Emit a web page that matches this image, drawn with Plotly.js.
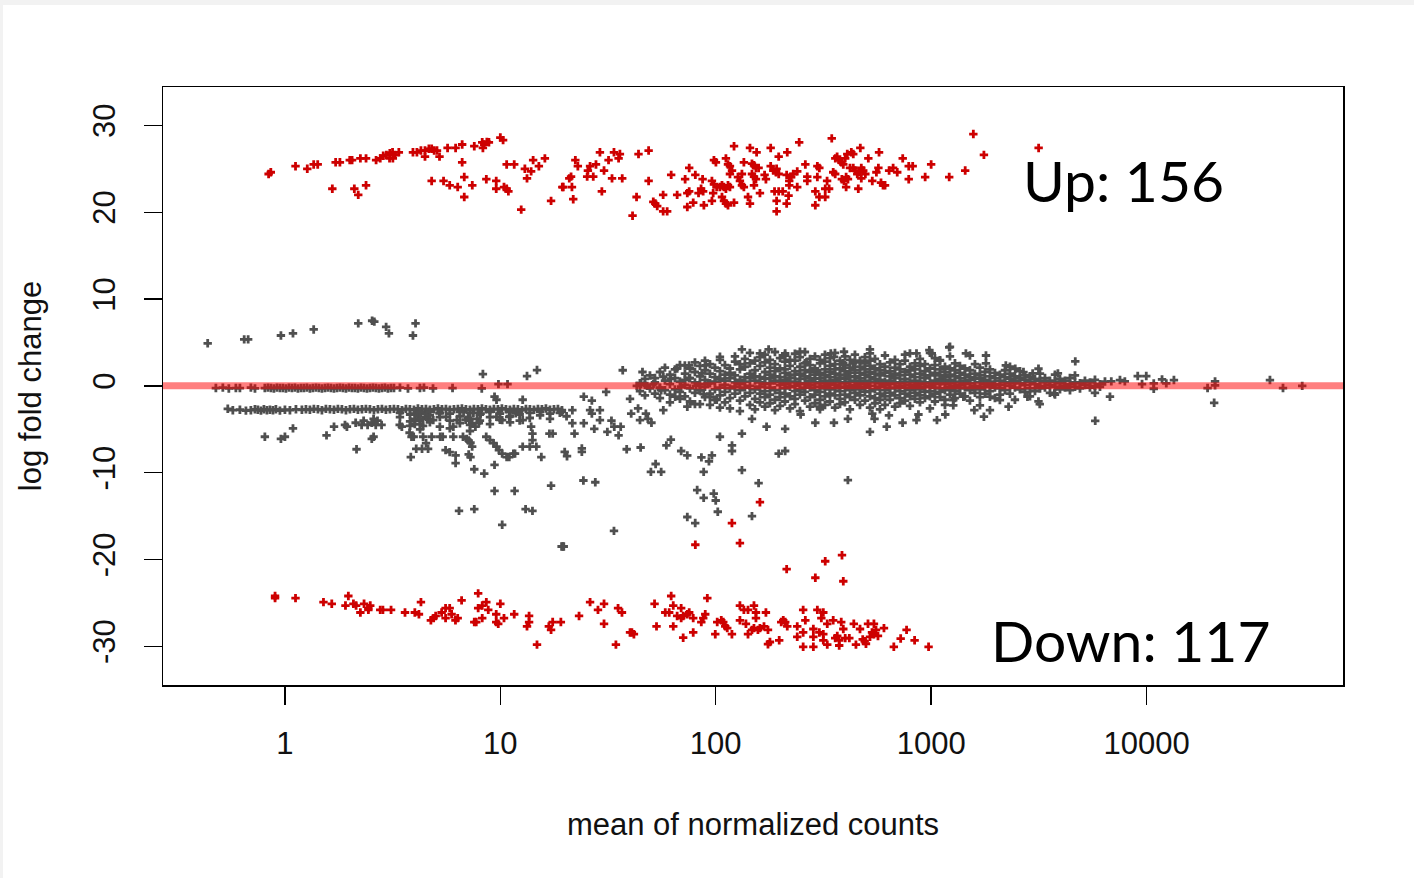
<!DOCTYPE html>
<html>
<head>
<meta charset="utf-8">
<script src="https://cdn.plot.ly/plotly-3.0.1.min.js"></script>
<style>
html,body{margin:0;padding:0;background:#f2f2f2;}
#chart{position:absolute;left:3px;top:5px;width:1411px;height:873px;background:#fff;}
</style>
</head>
<body>
<div id="chart"></div>
<script>
// ---------- tick labels ----------
const xTickVals = [1, 10, 100, 1000, 10000];
const xTickText = ["1", "10", "100", "1000", "10000"];
const yTickVals = [-30, -20, -10, 0, 10, 20, 30];
const yTickText = ["-30", "-20", "-10", "0", "10", "20", "30"];

// ---------- significant up (red) ----------
const upX = [0.84,0.86,1.12,1.27,1.36,1.42,1.72,1.80,2.0,2.05,2.24,2.38,2.65,2.77,2.86,2.96,3.07,3.16,3.25,3.38,3.06,3.17,
3.93,4.10,4.28,4.47,4.66,4.80,4.93,5.08,4.47,5.22,5.69,6.20,6.65,7.57,8.24,8.42,8.66,8.85,8.30,10.0,10.3,
1.66,2.10,2.19,2.38,4.80,5.45,5.82,6.34,6.65,6.80,6.80,7.41,8.61,9.57,9.57,10.4,10.7,10.9,10.7,11.6,12.5,13.0,13.9,14.2,13.3,15.1,16.1,17.2,19.4,
19.6,20.9,21.3,21.5,21.8,22.3,22.9,25.5,26.1,25.3,27.0,27.8,29.0,29.6,30.3,31.8,33.0,33.7,35.4,35.9,36.8,41.1,42.9,43.8,48.8,48.8,
51.3,52.4,53.5,57.0,57.0,59.5,62.1,66.2,72.1,75.3,73.8,75.3,73.8,78.6,80.4,83.2,85.5,87.4,86.9,88.1,96,97.3,98.1,100.2,96,98.1,101,
104.5,106.9,109.2,111.5,114,116.4,106.9,109.2,111.5,114,111.5,114,116.4,119,116.4,121.6,121.6,126.8,129.5,132.3,135.1,132.3,135.1,
141.2,144.2,144.2,154.8,147.3,150.5,153.7,158.1,147.3,150.5,153.7,150.5,160.4,168.6,171,179.9,179.9,185,190.5,196,191.7,187.5,196,191.7,191.7,204.6,196,
214.8,213.4,219.4,224,229,219.4,213.4,217.8,239,239,244,260.6,266,266,289.9,289.9,296.3,302.7,296.3,302.7,322.3,322.3,336,328.8,345.6,
351,358.6,359,366,374,383,391,399,408,426,435,385,394,403,411,403,420,435,444,454,463,474,484,495,474,459,469,511,533,557,569,573,
585,598,611,638,666,696,738,787,821,787,938,1000,1213,1439,1570,1758,3155];
const upY = [24.4,24.6,25.3,25.0,25.5,25.5,25.75,25.75,26.0,26.0,26.2,26.2,26.0,26.2,26.5,26.6,26.8,26.9,26.6,26.9,26.2,26.2,
26.9,26.9,27.1,27.1,27.3,27.3,27.1,27.1,26.4,26.4,27.4,27.4,27.8,27.6,28.05,27.8,28.1,28.05,27.4,28.6,28.3,
22.7,22.7,22.0,23.1,23.6,23.6,23.1,22.9,25.75,24.05,21.75,23.1,23.8,23.6,22.7,22.9,22.7,22.4,25.5,25.5,20.3,25.0,24.7,26.0,23.9,25.3,26.2,21.3,22.9,
22.9,23.9,24.1,22.9,21.5,26.0,25.3,24.8,25.3,24.1,24.1,25.5,26.9,22.4,24.8,26.0,23.9,26.9,26.2,26.7,23.9,19.6,21.75,26.7,27.1,23.6,
21.2,21.0,20.7,22.0,20.1,20.1,24.3,22.0,23.8,25.1,22.2,22.4,20.6,21.1,24.3,22.2,22.7,22.4,23.8,20.8,21.3,22.2,26.0,25.75,23.6,23.2,22.9,
22.9,23.1,22.9,22.7,23.1,22.9,21.75,21.3,21.0,20.8,26.2,25.5,25.3,24.8,24.4,27.6,21.1,24.05,23.6,23.1,22.9,24.4,25.75,
21.75,21.0,27.4,26.9,25.6,25.4,25.1,25.1,24.4,24.1,23.8,23.1,22.2,24.3,23.8,27.4,25.3,24.8,24.6,24.4,25.0,22.4,22.4,21.3,20.1,22.4,26.4,
26.9,24.3,23.6,24.05,24.4,23.1,21.0,21.9,24.7,22.9,28.05,25.5,24.1,23.6,22.4,20.8,25.3,25.1,24.05,21.75,21.75,22.7,22.7,23.6,28.5,
24.6,24.4,26.2,26.4,26.0,25.75,25.5,26.2,26.7,26.9,26.7,23.8,23.6,22.9,23.8,24.05,25.1,25.1,24.8,24.4,24.6,25.1,24.8,24.4,23.9,22.7,27.4,26.2,23.6,24.6,25.1,26.9,
23.4,23.1,23.1,24.8,25.1,24.6,26.2,25.3,25.3,23.8,24.05,25.5,24.05,24.8,29.0,26.6,27.4];

// ---------- significant down (red) ----------
const downX = [0.90,0.90,1.12,1.51,1.65,1.97,1.91,2.08,2.14,2.24,2.33,2.44,2.49,2.44,2.77,2.85,3.11,3.61,4.01,4.19,4.28,4.76,4.90,5.01,
5.34,5.57,5.82,5.94,5.57,6.19,6.34,6.61,7.57,7.73,7.89,7.89,8.24,8.61,8.79,8.24,9.57,9.57,9.78,10.0,10.4,11.6,13.3,13.6,13.6,14.8,
16.8,17.2,17.5,19.1,23.2,26.1,28.4,30.3,30.3,34.4,35.2,36.7,40.0,40.8,41.7,52.0,53.1,58.3,60.8,62.1,63.5,63.5,66.2,69.1,69.1,70.6,
73.8,75.3,70.6,78.6,78.6,85.7,87.5,89.4,91.4,99.5,101.6,106.1,108.4,110.7,113.1,118.9,129.5,129.5,135.1,138.1,141.2,141.2,147.3,
150.5,150.5,153.7,153.7,157,160.4,167.5,171,174.8,178.5,174.8,197.1,201.4,205.8,210.2,214.8,239,239,254.6,254.6,254.6,260.6,
283.9,283.9,283.9,296.3,302.7,309.2,315.8,315.8,315.8,329.4,329.4,351,358.6,366.6,374.3,382.5,391,399,417,374.3,437.5,447.6,
467.5,481.3,491.3,498.2,509.2,520,531.4,542.5,542.5,554.6,566.4,603.9,671,722,769,838,973,
80.4,129.5,213.4,290,322.3,385.6,391,160.4,118.9];
const downY = [-24.2,-24.45,-24.45,-24.9,-25.1,-24.2,-25.3,-25.1,-25.3,-26.1,-25.1,-25.6,-25.3,-25.8,-25.8,-25.8,-25.8,-26.1,-26.1,-26.3,-24.9,-27.0,-26.75,-26.5,
-26.1,-25.6,-25.6,-26.3,-26.75,-27.0,-26.75,-24.7,-27.2,-27.2,-23.9,-25.6,-25.3,-24.9,-25.8,-26.75,-26.3,-27.2,-27.4,-25.1,-26.75,-26.3,-27.7,-26.5,-27.2,-29.8,
-27.7,-28.1,-27.2,-27.2,-26.5,-24.9,-25.8,-25.1,-27.4,-29.8,-25.6,-26.1,-28.4,-28.4,-28.6,-25.1,-27.7,-26.1,-26.1,-24.2,-25.3,-27.7,-26.5,-25.6,-26.75,-26.5,
-26.3,-26.1,-29.0,-26.75,-28.4,-27.2,-26.75,-26.3,-24.45,-28.6,-27.2,-27.0,-27.2,-27.7,-27.9,-28.6,-25.3,-27.0,-25.8,-27.4,-25.8,-28.6,-28.1,
-25.3,-27.9,-26.75,-26.1,-28.1,-27.9,-27.7,-26.1,-28.1,-29.5,-29.75,-29.3,-27.2,-27.0,-27.2,-27.7,-27.7,-28.9,-25.8,-28.4,-30.05,-27.0,
-28.0,-30.05,-28.9,-25.8,-28.4,-26.75,-26.1,-28.6,-29.3,-29.8,-27.4,-27.0,-29.05,-28.8,-29.3,-27.2,-28.0,-29.05,-29.05,-29.9,-27.4,-29.8,
-28.0,-29.2,-29.4,-29.7,-27.4,-28.9,-28.4,-27.4,-28.6,-28.1,-28.8,-27.9,-30.05,-29.1,-28.1,-29.3,-30.05,
-18.3,-18.1,-21.1,-22.1,-20.2,-19.5,-22.5,-13.4,-15.8];

// ---------- not significant (grey): scattered points ----------
const grayX = [0.438,0.647,0.675,0.958,1.09,1.36,2.19,2.54,2.60,2.95,3.04,3.93,4.04,
6.0,8.2,9.8,10.8,8.3,13.3,14.8,
1.56,0.807,0.958,1.0,1.09,1.69,1.90,1.94,2.13,2.27,2.32,2.42,2.53,2.64,2.69,2.81,2.58,2.58,2.53,2.15,3.41,3.49,3.79,3.87,3.96,3.84,
4.07,4.33,4.62,4.52,4.01,4.01,4.01,4.15,4.24,4.38,4.47,4.62,4.38,4.80,5.26,4.52,4.88,5.22,5.6,6.05,6.29,5.57,5.82,6.2,6.2,5.4,6.05,
6.43,7.57,6.71,6.98,7.13,7.27,7.4,7.13,7.27,7.57,8.42,6.75,7.1,7.5,7.8,6.9,8.1,7.4,7.66,7.95,
8.6,8.95,9.3,9.6,9.85,10.2,10.7,11.0,11.5,9.4,9.4,11.65,10.2,9.4,9.6,12.7,13.1,14.1,13.7,14.1,14.7,15.5,12.7,11.7,
13.9,14.1,16.9,17.5,17.2,19.25,11.0,11.8,12.7,10.2,9.6,19.5,
19.3,20.3,21.6,21.6,22.1,19.9,20.4,23.9,23.9,24.4,26.6,26.1,26.6,29.0,24.4,27.3,29.0,31.4,32.8,33.8,35.4,36.2,24.3,27.6,33.7,19.7,
31.0,37.0,40.0,40.5,43.6,44.5,47.4,48.4,38.6,44.8,45.7,43.0,45.0,48.1,51.4,55.0,55.8,57.1,57.1,50.3,50,52.6,55.8,59.0,61.9,
61.9,66.2,69.1,64.8,69.1,73.8,71.9,75.2,75.2,73.8,73.8,80.3,82.0,87.9,97.9,100,102.2,87.9,85.8,93.0,96,81,84.5,87.9,84.5,91.8,94,101,
86.2,89.9,104.6,104.6,104.6,119,119,132.3,132.3,147.3,158.1,147.3,172.2,196,210,210,247.8,289.9,304.7,353.8,410.7,410.7,520,533,546,
622,637,737,855,873,1064,1163,
132.3,160.4,176,246,394,520,520,1213,210,264,342,354,391,434,797,855,981,1007,1099,
1223,1450,1514,1797,1797,2222,2322,2457,2683,3150,2960,3877,4668,
1267,1267,1412,1587,1685,1758,1875,1875,2086,2288,2800,3150,3193,3733,5778,6764,20600,
6860,7527,7930,9100,9970,9530,10800,10800,11800,12350,13400,19200,20800,20800,37400,43000,52800];
const grayY = [4.9,5.35,5.35,5.8,6.05,6.5,7.2,7.5,7.4,6.8,6.05,5.8,7.2,
-0.25,-0.3,0.2,0.2,1.36,1.13,1.82,
-5.7,-5.86,-6.1,-5.86,-4.9,-4.7,-4.5,-4.7,-4.25,-4.5,-4.0,-4.5,-4.25,-4.5,-4.0,-4.5,-3.8,-5.86,-6.1,-7.3,-4.5,-4.7,-5.4,-5.86,-5.86,-8.2,
-7.25,-7.25,-7.25,-6.6,-3.2,-3.8,-4.4,-3.5,-4.0,-4.6,-3.2,-3.8,-5.86,-5.86,-5.86,-3.56,-3.94,-3.17,-3.56,-4.7,-3.94,-7.4,-7.63,-8.0,-8.9,-5.86,-5.86,
-14.4,-14.2,-5.86,-6.1,-6.3,-6.55,-7.0,-7.9,-8.2,-9.6,-10.1,-3.0,-3.7,-3.1,-3.8,-3.9,-3.2,-4.3,-4.7,-4.3,
-5.86,-6.24,-6.6,-7.0,-7.4,-7.8,-8.2,-8.2,-7.8,-9.1,-12.1,-12.1,-16.0,-1.25,-1.6,-1.6,-14.2,-14.4,-7.0,-6.24,-7.0,-8.2,-7.0,-7.8,
-4.7,-5.5,-5.5,-5.5,-11.5,-18.5,-3.56,-3.17,-3.94,-3.94,-3.56,-18.5,
-3.0,-3.5,-2.8,-4.3,-5.5,-7.6,-8.1,-7.2,-7.6,-1.25,-1.7,-2.8,-3.2,-2.8,-4.3,-4.95,-3.94,-5.3,-4.0,-4.7,-5.7,-4.7,-10.9,-11.1,-16.7,-18.5,
-0.7,1.8,-1.5,-3.2,-2.6,-3.94,-3.2,-3.8,-7.3,-7.1,1.6,0,0.2,0,0.2,-0.25,-0.5,1.05,-2.8,-4.25,-9.9,-9.0,-9.9,-6.85,-6.2,
0.8,2.0,-0.1,-1.25,-7.5,-8.0,2.35,2.35,0.9,-2.4,-15.1,-15.8,-12.0,-12.9,-12.4,-13.2,-14.5,-9.9,-8.24,-8.7,-8.0,0,-0.5,-0.95,-2.1,0.3,-1.25,-1.6,
1.44,2.36,3.35,0.8,-5.86,-6.85,-7.5,-9.7,-5.5,-3.8,-11.2,-15.0,-4.7,-7.8,-7.5,-4.95,-3.3,-4.25,-2.4,-4.25,-3.8,-10.85,-5.3,-3.2,-3.8,
-4.7,-3.4,-4.25,-3.94,-3.3,-3.94,-3.3,
4.2,3.74,4.2,3.93,3.93,4.2,3.74,4.43,3.74,2.74,3.74,3.35,2.6,2.6,3.74,3.74,4.12,3.74,2.97,
4.5,3.74,3.5,3.5,2.6,2.36,2.2,1.97,1.59,1.97,1.44,1.44,2.82,
-1.64,-2.25,-1.25,-2.8,-2.25,-3.55,-2.8,-1.25,-1.64,-2.4,-1.25,-1.78,-2.1,-0.87,-4.02,-1.25,-1.95,
0.52,0.67,0.52,1.13,1.13,0.21,-0.33,0.29,0.75,0.29,0.67,-0.25,0.52,0.06,0.67,-0.25,0];

// ---------- grey: low-count band near zero ----------
const zeroBandX = [0.478,0.515,0.549,0.592,0.618,0.695,0.726,0.807,0.834,0.861,0.889,0.918,0.948,0.979,1.011,1.044,1.078,1.113,1.149,1.187,
1.225,1.265,1.306,1.348,1.393,1.438,1.485,1.534,1.583,1.635,1.689,1.744,1.800,1.859,1.920,1.982,2.047,2.113,2.182,2.253,2.327,2.403,
2.481,2.562,2.645,2.732,2.821,2.912,3.007,3.105,3.207,3.42,3.726,4.235,4.42,4.87];
const zeroBandY = [-0.25,-0.2,-0.3,-0.25,-0.25,-0.2,-0.3,-0.25,-0.2,-0.25,-0.3,-0.2,-0.25,-0.25,-0.3,-0.2,-0.25,-0.2,-0.3,-0.25,
-0.25,-0.2,-0.3,-0.25,-0.2,-0.25,-0.3,-0.25,-0.2,-0.25,-0.3,-0.25,-0.2,-0.25,-0.3,-0.2,-0.25,-0.25,-0.3,-0.2,-0.25,-0.3,
-0.25,-0.2,-0.25,-0.3,-0.25,-0.2,-0.3,-0.25,-0.25,-0.2,-0.3,-0.25,-0.2,-0.3];

// ---------- grey: low-count band near -2.7 ----------
const lowBandX = [0.543,0.573,0.618,0.659,0.695,0.726,0.749,0.774,0.799,0.825,0.852,0.880,0.908,0.948,1.0,1.055,1.125,1.199,
1.252,1.306,1.363,1.423,1.485,1.550,1.618,1.689,1.762,1.839,1.920,2.004,2.091,2.182,2.278,2.377,2.481,2.590,2.703,2.821,2.944,
3.073,3.207,3.347,3.494,3.646,3.805,3.972,4.145,4.326,4.515,4.712,4.918,5.133,5.357,5.591,5.834,6.090,6.355,6.633,6.923,7.226,
7.541,7.871,8.215,8.573,8.948,9.339,9.747,10.17,10.62,11.08,11.56,12.07,12.60,13.15,13.72,14.32,14.95,15.60,16.28,17.00,17.74,18.51,19.32];
const lowBandY = [-2.64,-2.8,-2.75,-2.85,-2.8,-2.7,-2.75,-2.85,-2.7,-2.8,-2.75,-2.8,-2.7,-2.85,-2.75,-2.8,-2.7,-2.75,
-2.7,-2.75,-2.65,-2.7,-2.8,-2.65,-2.7,-2.75,-2.65,-2.7,-2.8,-2.7,-2.65,-2.75,-2.7,-2.65,-2.7,-2.8,-2.7,-2.65,-2.75,
-2.7,-2.65,-2.7,-2.8,-2.65,-2.7,-2.75,-2.6,-2.7,-2.65,-2.75,-2.7,-2.6,-2.7,-2.65,-2.75,-2.7,-2.65,-2.6,-2.7,-2.75,
-2.65,-2.7,-2.6,-2.7,-2.75,-2.65,-2.7,-2.6,-2.7,-2.75,-2.65,-2.7,-2.8,-2.65,-2.7,-2.75,-2.65,-2.7,-2.6,-2.75,-2.7,-2.65,-2.8];

// ---------- grey: low-count cloud under the band (count, lfc values) ----------
const lowCloudCounts = [3.42,3.81,4.24,4.71,5.24,5.83,6.49,7.23,8.04,8.95,9.96,11.1,12.3,13.7,15.3,17.0,18.9];
const lowCloudLfc = [[-3.1,-3.6],[-3.3,-4.1,-4.6],[-3.0,-3.8,-4.4,-5.0],[-3.4,-4.2,-3.0],[-3.6,-4.7,-3.1],[-3.2,-4.0,-4.9],
[-3.5,-3.0,-4.3],[-3.1,-3.8,-4.5,-5.2],[-3.3,-4.0],[-3.6,-4.4,-3.0],[-3.2,-3.9],[-3.5,-4.2,-3.0],[-3.3,-4.0],[-3.1,-3.7],
[-3.4,-3.0],[-3.2,-3.8],[-3.1]];

// ---------- grey: main cloud (count, lfc values) ----------
const cloudCounts = [44.48,46.92,49.50,52.21,55.08,58.11,61.30,64.66,68.21,71.95,75.90,80.07,84.47,89.11,94.00,99.15,104.6,110.3,116.4,122.8,
129.5,136.6,144.1,152.1,160.4,169.2,178.5,188.3,198.7,209.6,221.1,233.2,246.0,259.5,273.8,288.8,304.7,321.4,339.0,357.7,377.3,398.0,
419.8,442.9,467.2,492.9,519.9,548.5,578.6,610.3,644.0,679.2,716.5,755.8,797.3,841.1,887.3,936.0,987.2,1041,1099,1159,1223,1290,1360,
1435,1514,1597,1685,1778,1875,1978,2086,2201,2322,2449,2584,2726,2876,3034,3200,3376,3561,3757,3963,4181,4411,4653,4909,5176,5462,5761,6078,6412];
const cloudLfc = [
[0.3,-0.6],[0.8,-1.1,0.1],[-0.3,1.2],[0.4,-0.9,0.9],[-0.2,1.6,-1.4],[0.6,-0.5,2.1],[0.2,-1.0,1.3,-1.9],[0.9,-0.4,1.9],
[-0.7,0.5,2.4,-1.5],[0.1,1.4,-1.2,0.7],[-0.3,2.0,0.9,-1.8],[0.4,1.6,-0.8,2.7,-2.1],[1.1,-0.5,0.2,2.3],[-1.3,0.7,1.8,-0.1,2.9],
[0.3,-0.9,1.4,-2.2,2.5],[-0.4,1.0,2.1,-1.6,0.5],[0.8,-0.2,1.7,-1.1,3.0,-2.5],[0.1,1.3,-0.7,2.4,-1.9,0.6],[-0.3,0.9,2.0,-1.4,1.5,-2.6],
[0.4,-0.9,1.2,2.8,-0.1,3.4],[-0.5,0.7,1.9,-1.7,0.2,2.5,-2.9],[1.0,-0.2,2.2,-1.2,0.5,3.1],[0.0,1.4,-0.8,2.6,-2.2,0.9,3.8],
[0.6,-0.4,1.8,-1.5,2.9,-2.7,1.1],[-0.1,1.0,2.3,-0.9,0.4,-1.9,3.3],[0.8,-0.6,1.6,2.7,-1.3,0.2,-2.4,3.6],[0.3,1.3,-0.2,2.1,-1.0,3.0,-2.0,0.9],
[-0.5,0.6,1.7,2.5,-1.6,1.1,-2.8,3.9],[0.1,1.0,-0.8,2.0,3.2,-1.3,0.5,-2.3],[0.7,-0.3,1.5,2.8,-1.8,0.2,-0.9,3.5,1.9],
[-0.1,1.2,0.4,2.3,-1.2,-2.6,3.0,0.9],[0.5,1.7,-0.6,2.9,-1.5,0.0,3.7,-2.1,1.3],[-0.4,0.8,2.2,1.4,-1.0,-2.9,3.3,0.2],
[0.3,1.1,-0.7,2.6,-1.7,1.8,-0.2,3.9],[-0.2,0.6,1.6,2.4,-1.3,-2.4,0.9,3.1,0.1],[0.4,1.3,-0.5,2.0,-1.0,3.4,-2.0,0.8,1.7],
[-0.1,0.9,2.6,-1.6,0.3,1.5,-0.7,3.0,-2.7],[0.6,1.9,-0.3,1.2,-1.2,2.8,0.0,-2.2,3.6],[0.2,1.0,-0.9,2.3,1.6,-1.8,0.5,3.2,-0.4],
[-0.3,0.7,1.4,2.5,-1.1,0.1,-2.5,3.8,1.9],[0.4,1.2,-0.6,2.0,-1.5,0.9,2.9,-0.1,-2.1],[-0.2,0.8,1.7,-1.0,2.4,0.3,-1.9,3.4,1.3],
[0.5,1.5,-0.5,2.1,-1.3,0.0,3.0,-2.7,1.0],[0.1,1.1,-0.8,2.7,-1.6,0.6,1.8,-0.3,3.6],[-0.4,0.9,2.2,0.3,-1.1,1.5,-2.2,2.9,-0.1],
[0.6,1.3,-0.7,1.9,-1.7,0.2,2.6,-0.2,3.3],[0.0,1.0,-1.2,2.3,0.5,-2.5,1.6,2.9,-0.6],[0.4,-0.4,1.4,2.0,-1.4,0.8,-2.0,3.1],
[-0.1,0.7,1.8,-0.9,1.2,-1.6,2.5,0.3,-2.7],[0.5,-0.5,1.5,2.2,-1.2,0.1,3.5,-2.2],[0.2,1.1,-0.8,1.7,-1.6,0.6,2.7,-0.2],
[-0.3,0.9,2.1,-1.1,0.4,1.4,-2.4,3.0],[0.3,1.2,-0.6,1.9,-1.4,0.0,2.5,-2.0],[-0.2,0.8,1.6,-0.9,0.5,2.9,-1.7,3.6],
[0.4,-0.5,1.3,2.2,-1.2,0.1,-2.3,1.8],[0.0,1.0,-0.8,1.9,0.6,-1.5,2.6,-0.3],[0.5,-0.4,1.4,2.3,-1.1,0.2,-1.9,3.1],
[-0.1,0.9,1.7,-0.7,0.4,2.5,-1.4,1.2],[0.3,-0.6,1.2,2.0,-1.2,0.0,-2.6,3.8],[0.6,-0.2,1.5,-0.9,2.4,0.2,-1.8,3.2],
[-0.3,0.8,1.9,-1.3,0.4,1.2,-0.7,2.9],[0.2,1.0,-0.5,1.6,-1.6,0.6,2.2,-2.2],[-0.1,0.7,1.3,-1.0,2.0,0.3,-0.4,3.4],
[0.4,-0.6,1.1,1.8,-1.4,0.0,2.6],[0.1,0.9,-0.9,1.5,-0.3,2.3,0.5],[-0.2,0.6,1.3,-1.2,2.0,0.2],[0.3,-0.5,1.0,1.8,-1.7,0.7],
[0.0,0.8,-0.8,1.4,-0.3,2.5],[0.4,-0.4,1.2,-1.3,0.9,2.1],[-0.1,0.7,1.6,-0.9,0.2],[0.5,-0.6,1.1,0.0,1.9],[0.2,-0.2,0.9,-1.4,1.5],
[-0.3,0.6,1.3,0.1,-1.0],[0.4,-0.5,1.0,1.8],[0.0,0.8,-0.9,1.4,0.3],[-0.2,0.6,1.1,-1.6],[0.3,-0.4,0.9,1.7],[0.1,0.7,-0.7,1.2],
[-0.3,0.5,1.0,-1.2],[0.2,-0.6,0.8],[0.0,0.6,-0.3,1.4],[0.4,-0.2,0.9],[0.1,-0.8,0.6],[-0.1,0.5,1.3,-1.0],[0.3,-0.4,0.8],
[0.0,0.6,-0.2],[0.2,0.9,-0.5],[-0.1,0.4,1.2],[0.3,-0.3],[0.1,0.6],[-0.2,0.4],[0.0,0.7,-0.8],[0.2,-0.1],[0.5]];

// ---------- build grey trace ----------
const gx = [].concat(grayX, zeroBandX, lowBandX);
const gy = [].concat(grayY, zeroBandY, lowBandY);
lowCloudCounts.forEach((c, i) => lowCloudLfc[i].forEach(v => { gx.push(c); gy.push(v); }));
cloudCounts.forEach((c, i) => cloudLfc[i].forEach(v => { gx.push(c); gy.push(v); }));

const FONT = "Liberation Sans, Arial, sans-serif";
const grey = '#4f4f4f', red = '#cd0000';

const traces = [
  {x: gx, y: gy, type: 'scatter', mode: 'markers', hoverinfo: 'skip',
   marker: {symbol: 'cross', size: 7, color: grey, line: {width: 0}}},
  {x: upX, y: upY, type: 'scatter', mode: 'markers', hoverinfo: 'skip',
   marker: {symbol: 'cross', size: 7, color: red, line: {width: 0}}},
  {x: downX, y: downY, type: 'scatter', mode: 'markers', hoverinfo: 'skip',
   marker: {symbol: 'cross', size: 7, color: red, line: {width: 0}}}
];

const layout = {
  width: 1411, height: 873,
  margin: {l: 160, r: 71, t: 82, b: 193, pad: 0},
  paper_bgcolor: '#ffffff', plot_bgcolor: '#ffffff',
  showlegend: false,
  font: {family: FONT, size: 31, color: '#111'},
  xaxis: {
    type: 'log', range: [-0.566, 4.912],
    tickmode: 'array', tickvals: xTickVals, ticktext: xTickText,
    ticks: 'outside', ticklen: 18, tickwidth: 1.3, tickcolor: '#000',
    showline: true, linecolor: '#000', linewidth: 1.5, mirror: true,
    showgrid: false, zeroline: false,
    tickfont: {family: FONT, size: 31, color: '#111'},
    ticklabelstandoff: 12,
    title: {text: 'mean of normalized counts', font: {family: FONT, size: 31, color: '#111'}, standoff: 53}
  },
  yaxis: {
    range: [-34.45, 34.42],
    tickmode: 'array', tickvals: yTickVals, ticktext: yTickText, tickangle: -90,
    ticks: 'outside', ticklen: 18, tickwidth: 1.3, tickcolor: '#000',
    showline: true, linecolor: '#000', linewidth: 1.5, mirror: true,
    showgrid: false, zeroline: false,
    tickfont: {family: FONT, size: 31, color: '#111'},
    ticklabelstandoff: 16,
    title: {text: 'log fold change', font: {family: FONT, size: 31, color: '#111'}, standoff: 36}
  },
  shapes: [
    {type: 'line', xref: 'paper', x0: 0, x1: 1, yref: 'y', y0: 0, y1: 0, layer: 'above',
     line: {color: 'rgba(255,0,0,0.5)', width: 7}}
  ],
  annotations: [
    {text: 'Up: 156', xref: 'paper', yref: 'paper', x: 0.8136, y: 0.845, xanchor: 'center', yanchor: 'middle',
     showarrow: false, font: {family: 'Lato, Carlito, sans-serif', size: 57, color: '#000'}},
    {text: 'Down: 117', xref: 'paper', yref: 'paper', x: 0.8195, y: 0.075, xanchor: 'center', yanchor: 'middle',
     showarrow: false, font: {family: 'Lato, Carlito, sans-serif', size: 57, color: '#000'}}
  ]
};

Plotly.newPlot('chart', traces, layout, {displayModeBar: false, staticPlot: true});
</script>
</body>
</html>
